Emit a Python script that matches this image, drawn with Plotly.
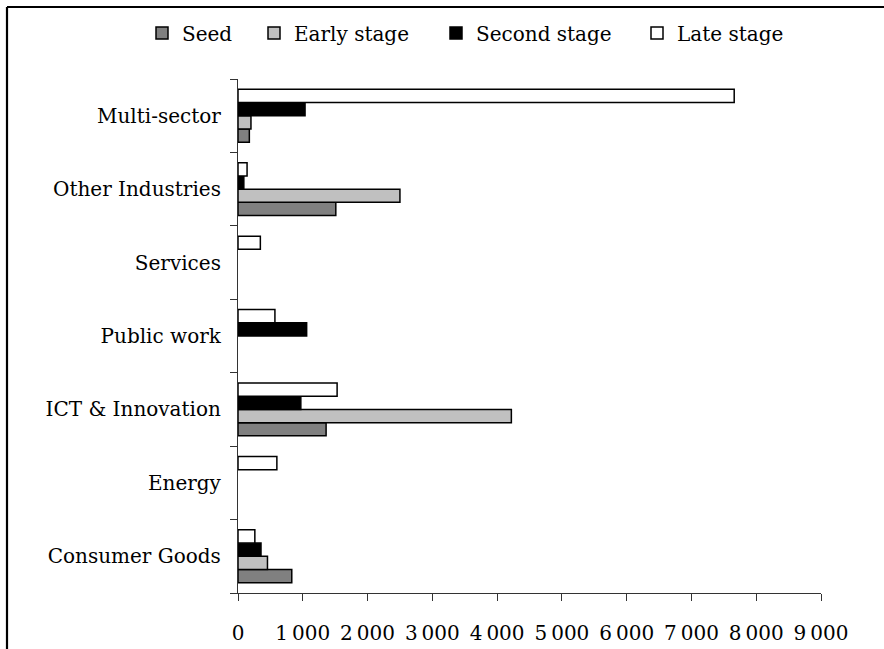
import plotly.graph_objects as go

categories = ["Consumer Goods", "Energy", "ICT & Innovation", "Public work",
              "Services", "Other Industries", "Multi-sector"]
seed = [830, None, 1360, None, None, 1510, 175]
early_stage = [455, None, 4220, None, None, 2500, 200]
second_stage = [355, None, 970, 1060, None, 90, 1035]
late_stage = [260, 600, 1530, 570, 345, 140, 7660]

series_names = ["Seed", "Early stage", "Second stage", "Late stage"]
series_values = [seed, early_stage, second_stage, late_stage]
series_colors = ["#808080", "#C0C0C0", "#000000", "#FFFFFF"]

tick_values = [0, 1000, 2000, 3000, 4000, 5000, 6000, 7000, 8000, 9000]
tick_labels = ["0", "1\u2009000", "2\u2009000", "3\u2009000", "4\u2009000",
               "5\u2009000", "6\u2009000", "7\u2009000", "8\u2009000", "9\u2009000"]

FONT = "DejaVu Serif"
FS = 20
W, H = 884, 649
L, R, T, B = 238, 63, 79, 56
pw, ph = W - L - R, H - T - B

def px_x(x):
    return (x - L) / pw

def px_y(y):
    return (H - B - y) / ph

fig = go.Figure()
legend_ids = ["legend", "legend2", "legend3", "legend4"]
for name, vals, col, lid in zip(series_names, series_values, series_colors, legend_ids):
    fig.add_trace(go.Bar(
        y=categories, x=vals, name=name, orientation="h",
        marker=dict(color=col, line=dict(color="#000000", width=1.5)),
        legend=lid,
    ))

legend_left_px = [142, 254, 436, 637]
layout_legends = {}
for lid, lx in zip(legend_ids, legend_left_px):
    layout_legends[lid] = dict(
        x=px_x(lx), xanchor="left", y=px_y(33), yanchor="middle",
        font=dict(family=FONT, size=FS, color="#000000"),
        bgcolor="rgba(0,0,0,0)", itemwidth=30,
    )

fig.update_layout(
    width=W, height=H,
    margin=dict(l=L, r=R, t=T, b=B, autoexpand=False),
    paper_bgcolor="white", plot_bgcolor="white",
    barmode="group", bargap=0.28, bargroupgap=0,
    showlegend=True,
    font=dict(family=FONT, size=FS, color="#000000"),
    **layout_legends,
)

fig.update_xaxes(
    range=[0, 9000], tickvals=tick_values, ticktext=tick_labels,
    showgrid=False, zeroline=False, showline=True, linecolor="#333333", linewidth=1.2,
    ticks="outside", ticklen=7, tickcolor="#333333", tickwidth=1.2,
    ticklabelstandoff=15, tickfont=dict(family=FONT, size=FS, color="#000000"),
)
fig.update_yaxes(
    type="category", categoryorder="array", categoryarray=categories,
    tickson="boundaries", showgrid=False, zeroline=False, showline=True,
    linecolor="#333333", linewidth=1.2,
    ticks="outside", ticklen=7, tickcolor="#333333", tickwidth=1.2,
    ticklabelstandoff=12, tickfont=dict(family=FONT, size=FS, color="#000000"),
)

# outer frame (left and top edges visible)
fig.add_shape(type="line", xref="paper", yref="paper",
              x0=px_x(7), x1=px_x(W + 10), y0=px_y(7), y1=px_y(7),
              line=dict(color="#000000", width=2.2))
fig.add_shape(type="line", xref="paper", yref="paper",
              x0=px_x(7), x1=px_x(7), y0=px_y(7), y1=px_y(H + 10),
              line=dict(color="#000000", width=2.2))

fig.write_html("out.html", config={"displayModeBar": False},
               post_script="document.body.style.margin='0';document.body.style.overflow='hidden';")
